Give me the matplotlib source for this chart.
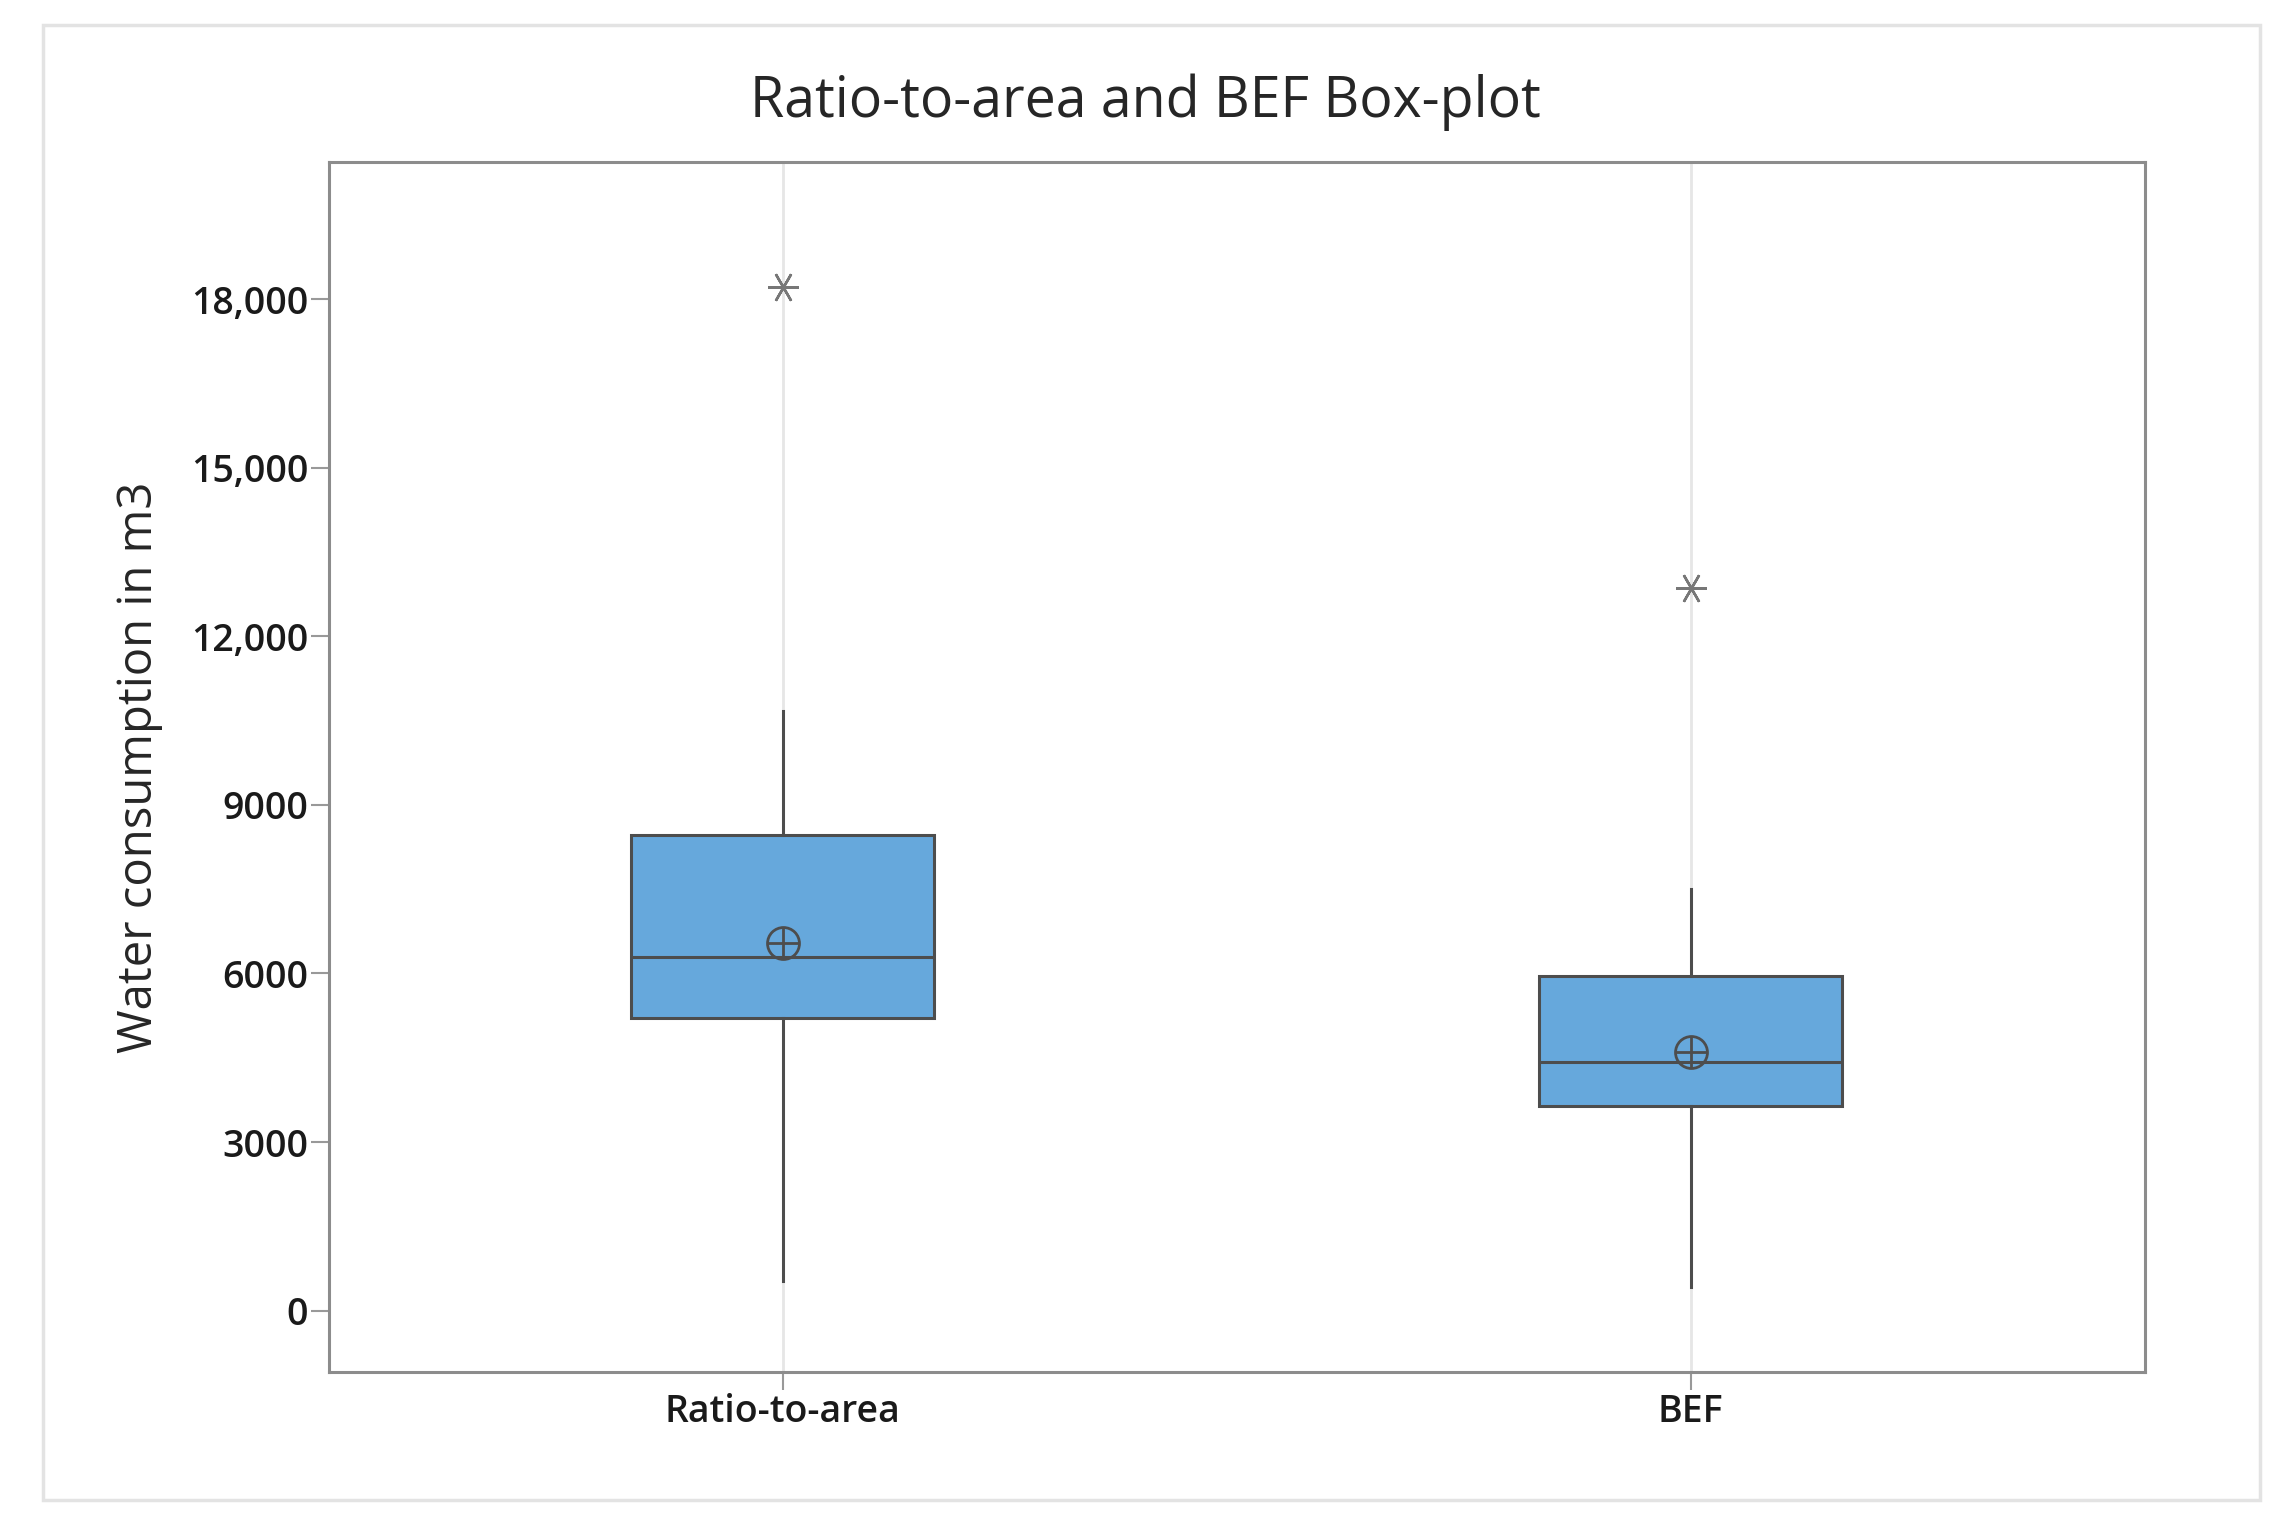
import matplotlib
matplotlib.use("Agg")
import matplotlib.pyplot as plt
import matplotlib.patches as patches

# Box-plot summary values (m3)
groups = ["Ratio-to-area", "BEF"]
q1 = [5210, 3650]
median = [6290, 4430]
q3 = [8470, 5960]
mean = [6550, 4610]
whisker_low = [520, 420]
whisker_high = [10670, 7510]
outliers = [[18210], [12850]]

y_ticks = [0, 3000, 6000, 9000, 12000, 15000, 18000]
y_tick_labels = ["0", "3000", "6000", "9000", "12,000", "15,000", "18,000"]

BOX_COLOR = "#66A8DC"
EDGE = "#4d4d4d"

plt.rcParams["font.family"] = ["Open Sans", "DejaVu Sans"]

fig = plt.figure(figsize=(22.78, 15.38), dpi=100)
fig.patch.set_facecolor("white")

# light frame around the whole graph
frame = patches.Rectangle((0.019, 0.025), 0.973, 0.959, transform=fig.transFigure,
                          fill=False, edgecolor="#e3e3e3", linewidth=2.5)
fig.patches.append(frame)

ax = fig.add_axes([0.1444, 0.108, 0.797, 0.7867])

stats = []
for i, name in enumerate(groups):
    stats.append(dict(label=name, med=median[i], q1=q1[i], q3=q3[i],
                      whislo=whisker_low[i], whishi=whisker_high[i],
                      mean=mean[i], fliers=outliers[i]))

positions = list(range(1, len(groups) + 1))

# faint vertical reference lines behind the boxes
for p in positions:
    ax.axvline(p, color="#e6e6e6", linewidth=2, zorder=0)

ax.bxp(stats, positions=positions, widths=0.334, patch_artist=True,
       showmeans=False, showcaps=False,
       boxprops=dict(facecolor=BOX_COLOR, edgecolor=EDGE, linewidth=2.2),
       medianprops=dict(color=EDGE, linewidth=2.2),
       whiskerprops=dict(color=EDGE, linewidth=2.2),
       flierprops=dict(marker=(6, 2, 90), markersize=22, markeredgecolor="#777777",
                       markeredgewidth=1.8, linestyle="none"))

# mean symbol: circle with cross
ax.plot(positions, mean, linestyle="none", marker="o", markersize=23,
        markerfacecolor="none", markeredgecolor=EDGE, markeredgewidth=2, zorder=5)
ax.plot(positions, mean, linestyle="none", marker="+", markersize=23,
        markeredgecolor=EDGE, markeredgewidth=2, zorder=5)

ax.set_xlim(0.5, 2.5)
ax.set_ylim(-1090, 20440)
ax.set_yticks(y_ticks)
ax.set_yticklabels(y_tick_labels)
ax.set_xticks(positions)
ax.set_xticklabels(groups)

for lbl in ax.get_xticklabels() + ax.get_yticklabels():
    lbl.set_fontweight("semibold")
    lbl.set_fontsize(27)
    lbl.set_color("#1a1a1a")

ax.tick_params(axis="both", direction="out", length=13, width=1.5, color="#999999", pad=2)

for s in ax.spines.values():
    s.set_color("#8c8c8c")
    s.set_linewidth(2.2)

ax.set_ylabel("Water consumption in m3", fontsize=34, color="#262626", labelpad=20)
fig.suptitle("Ratio-to-area and BEF Box-plot", fontsize=40, color="#262626",
             fontweight="medium", x=0.503, y=0.952, va="top")

fig.savefig("out.png", dpi=100, facecolor="white")
